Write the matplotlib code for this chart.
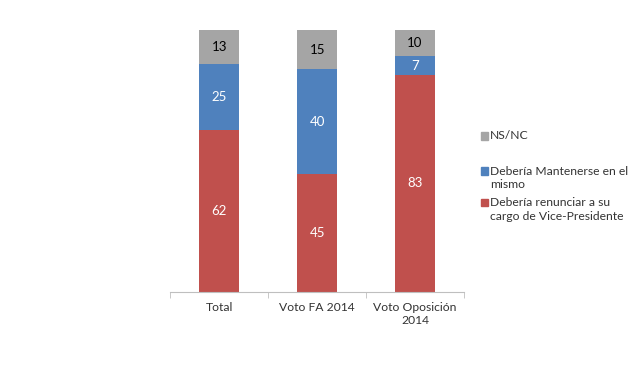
import matplotlib

matplotlib.use("Agg")
import matplotlib.pyplot as plt
from matplotlib.patches import Rectangle
import numpy as np

categories = ["Total", "Voto FA 2014", "Voto Oposición\n2014"]
renunciar = [62, 45, 83]
mantenerse = [25, 40, 7]
nsnc = [13, 15, 10]

series_labels = [
    "Debería renunciar a su\ncargo de Vice-Presidente",
    "Debería Mantenerse en el\nmismo",
    "NS/NC",
]
colors = ["#C0504D", "#4F81BD", "#A5A5A5"]
text_colors = ["white", "white", "black"]

plt.rcParams["font.family"] = ["Lato", "DejaVu Sans"]

W, H = 640, 382
fig = plt.figure(figsize=(W / 100, H / 100), dpi=100)
ax = fig.add_axes([0.266, 0.236, 0.459, 0.685])

x = np.arange(len(categories))
bottom = np.zeros(len(categories))
for vals, col, tc in zip([renunciar, mantenerse, nsnc], colors, text_colors):
    ax.bar(x, vals, width=0.41, bottom=bottom, color=col)
    for xi, b, v in zip(x, bottom, vals):
        ax.text(xi, b + v / 2, str(v), ha="center", va="center", fontsize=9.5, color=tc)
    bottom += np.array(vals)

ax.set_xlim(-0.5, 2.5)
ax.set_ylim(0, 100)
ax.set_xticks(x)
ax.set_xticklabels(categories, fontsize=8.7, color="#333333", linespacing=1.3)
ax.set_xticks([-0.5, 0.5, 1.5, 2.5], minor=True)
ax.tick_params(axis="x", which="major", length=0, pad=7)
ax.tick_params(axis="x", which="minor", length=4, color="#BFBFBF")
ax.set_yticks([])
for side in ["left", "right", "top"]:
    ax.spines[side].set_visible(False)
ax.spines["bottom"].set_color("#BFBFBF")

# legend drawn by hand (pixel positions of the Excel legend)
legend_rows = [(series_labels[2], colors[2], 136, 136),
               (series_labels[1], colors[1], 171, 178),
               (series_labels[0], colors[0], 202, 209.5)]
for lab, col, marker_y, text_y in legend_rows:
    fig.patches.append(Rectangle(((481) / W, 1 - (marker_y + 3.5) / H), 7 / W, 7 / H,
                                 transform=fig.transFigure, color=col))
    fig.text(490 / W, 1 - text_y / H, lab, ha="left", va="center", fontsize=8.7,
             color="#333333", linespacing=1.3)

fig.savefig("out.png", dpi=100, facecolor="white")
